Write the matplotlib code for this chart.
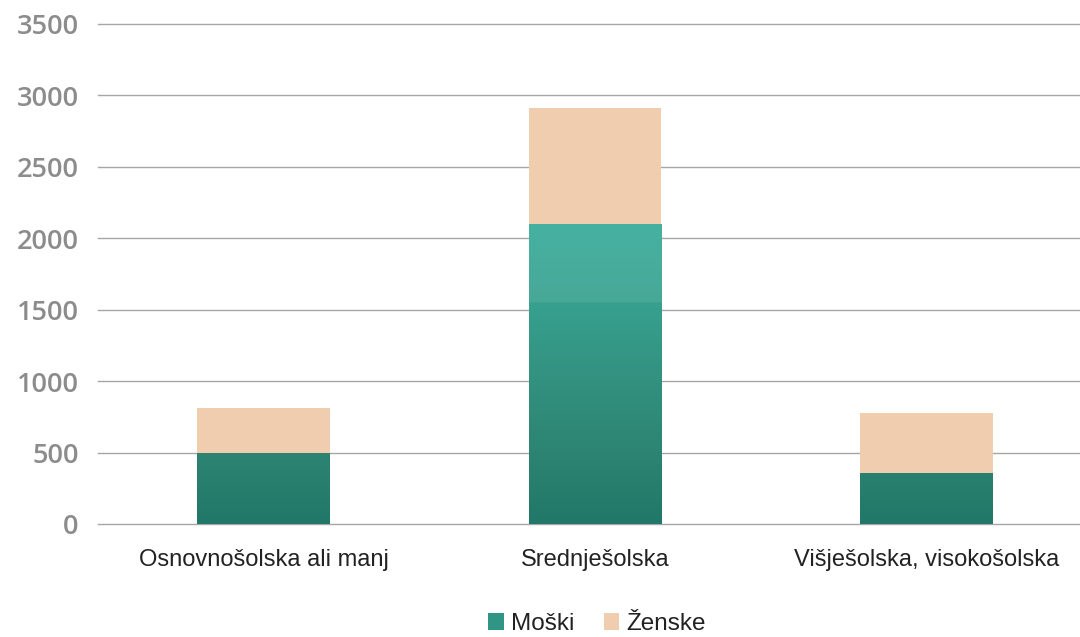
import matplotlib
matplotlib.use("Agg")
import matplotlib.pyplot as plt
import numpy as np
from matplotlib.colors import LinearSegmentedColormap
from matplotlib.patches import Patch

categories = ["Osnovnošolska ali manj", "Srednješolska", "Višješolska, visokošolska"]
moski = [500, 2100, 355]
zenske = [312, 810, 420]
yticks = [0, 500, 1000, 1500, 2000, 2500, 3000, 3500]

W, H = 1080, 637
fig = plt.figure(figsize=(W / 100, H / 100), dpi=100)
ax = fig.add_axes([98 / W, (H - 524) / H, (1092 - 98) / W, 500 / H])

x = np.arange(len(categories))
bw = 0.4
bars_m = ax.bar(x, moski, bw, color="#2f9685", zorder=2, label="Moški")
bars_z = ax.bar(x, zenske, bw, bottom=moski, color="#f0cdae", zorder=2, label="Ženske")

# gradient fill for the Moški bars (colour depends on height)
grad = LinearSegmentedColormap.from_list(
    "g",
    [(0.0, "#217868"), (500 / 2100, "#2d8472"), (1000 / 2100, "#33917f"),
     (1545 / 2100, "#37a08f"), (1555 / 2100, "#49a898"), (1.0, "#46b1a1")],
)
for b in bars_m:
    bx, by = b.get_x(), b.get_y()
    bwid, bh = b.get_width(), b.get_height()
    vals = np.linspace(by, by + bh, 400)[:, None] / 2100
    im = ax.imshow(vals, cmap=grad, vmin=0, vmax=1, aspect="auto", origin="lower",
                   extent=[bx, bx + bwid, by, by + bh], zorder=2.5, interpolation="bilinear")
    im.set_clip_path(b)

ax.set_xlim(-0.5, 2.5)
ax.set_ylim(0, 3500)
ax.set_yticks(yticks)
ax.set_yticklabels([str(v) for v in yticks], fontsize=19.5, color="#8c8c8c",
                   fontweight="semibold", family=["Open Sans", "DejaVu Sans"])
ax.set_xticks(x)
ax.set_xticklabels(categories, fontsize=17, color="#222222", family=["Liberation Sans", "DejaVu Sans"])
ax.tick_params(axis="y", length=0, pad=14)
ax.tick_params(axis="x", length=0, pad=18)
ax.grid(axis="y", color="#a6a6a6", linewidth=1, zorder=0)
for gl in ax.get_ygridlines():
    gl.set_clip_on(False)
for s in ax.spines.values():
    s.set_visible(False)

handles = [Patch(facecolor="#2f9685", label="Moški"), Patch(facecolor="#f0cdae", label="Ženske")]
fig.legend(handles=handles, loc="center", bbox_to_anchor=(597 / W, 1 - 624 / H), ncol=2,
           frameon=False, prop={"family": ["Liberation Sans", "DejaVu Sans"], "size": 17.5},
           handlelength=0.65, handleheight=0.65, handletextpad=0.3, columnspacing=1.2,
           labelcolor="#222222")

fig.savefig("out.png", dpi=100)
